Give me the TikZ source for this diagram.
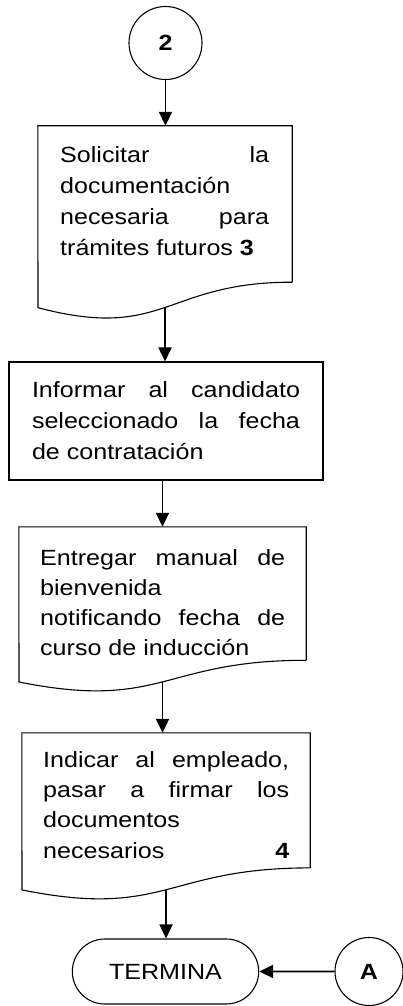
\documentclass[tikz,border=0pt]{standalone}
\usepackage{fontspec}
\setmainfont{Liberation Sans}[FakeStretch=1.14]
\usetikzlibrary{arrows.meta,shapes.misc}

\tikzset{
  line/.style={line width=1.1pt},
  box/.style={draw, line width=1.1pt, inner sep=0pt},
  docbox/.style={inner sep=0pt},
  txt/.style={inner sep=0pt, align=justify, font=\fontsize{22}{#1}\selectfont,
    execute at begin node={\hyphenpenalty=10000 \exhyphenpenalty=10000 \tolerance=10000 }},
  txt/.default=31,
  conn/.style={circle, draw, line width=1.1pt, inner sep=0pt,
    font=\fontsize{22}{26}\selectfont\bfseries},
  term/.style={rounded rectangle, draw, line width=1.1pt,
    font=\fontsize{22}{26}\selectfont},
  arr/.style={line width=1.8pt, -{Triangle[length=14pt,width=13pt]}},
}

\begin{document}
\begin{tikzpicture}[x=1pt,y=-1pt]
\useasboundingbox (0,0) rectangle (403,1006);
% connector
\node [conn, minimum size=73pt] (c2) at (165.5,43) {2};
% document 1
\node [docbox, minimum width=254pt, minimum height=156pt] (doc1) at (165,204) {};
\draw [line] (doc1.south east) -- (doc1.north east) -- (doc1.north west) -- (38,307.7)
  .. controls (165,341.3) and (165,282) .. (doc1.south east) coordinate[pos=.5] (doc1w);
\node [txt, anchor=north west, text width=209pt] (t1) at (60,146)
  {Solicitar la\linebreak documentación\\ necesaria para\linebreak trámites futuros \textbf{3}};
% process
\node [box, txt, minimum width=314pt, minimum height=118pt, text width=268pt] (b2) at (166,421)
  {Informar al candidato\linebreak seleccionado la fecha\linebreak de contratación};
% document 3
\node [docbox, minimum width=287pt, minimum height=133.1pt] (doc3) at (162.5,593.55) {};
\draw [line] (doc3.south east) -- (doc3.north east) -- (doc3.north west) -- (19,682)
  .. controls (162.5,710.8) and (162.5,660.1) .. (doc3.south east) coordinate[pos=.5] (doc3w);
\node [txt=30, anchor=north west, text width=245pt] (t3) at (40,549.5)
  {Entregar manual de\linebreak bienvenida\\ notificando fecha de\linebreak curso de inducción};
% document 4
\node [docbox, minimum width=288pt, minimum height=134.7pt] (doc4) at (166,800.35) {};
\draw [line] (doc4.south east) -- (doc4.north east) -- (doc4.north west) -- (22,889.9)
  .. controls (166,919) and (166,867.7) .. (doc4.south east) coordinate[pos=.5] (doc4w);
\node [txt=30.3, anchor=north west, text width=246pt] (t4) at (43,751)
  {Indicar al empleado,\linebreak pasar a firmar los\linebreak documentos\\ necesarios\hfill\textbf{4}};
% end
\node [term, minimum width=193pt, minimum height=65pt] (term) at (165.5,971.5) {TERMINA};
\node [conn, minimum size=68pt] (cA) at (369,971.5) {A};
% arrows
\draw [arr] (c2) -- (c2 |- doc1.north);
\draw [arr] (doc1w) -- (doc1w |- b2.north);
\draw [arr] (doc3.north |- b2.south) -- (doc3.north);
\draw [arr] (doc3w) -- (doc3w |- doc4.north);
\draw [arr] (doc4w) -- (doc4w |- term.north);
\draw [arr] (cA) -- (term);
\end{tikzpicture}
\end{document}
